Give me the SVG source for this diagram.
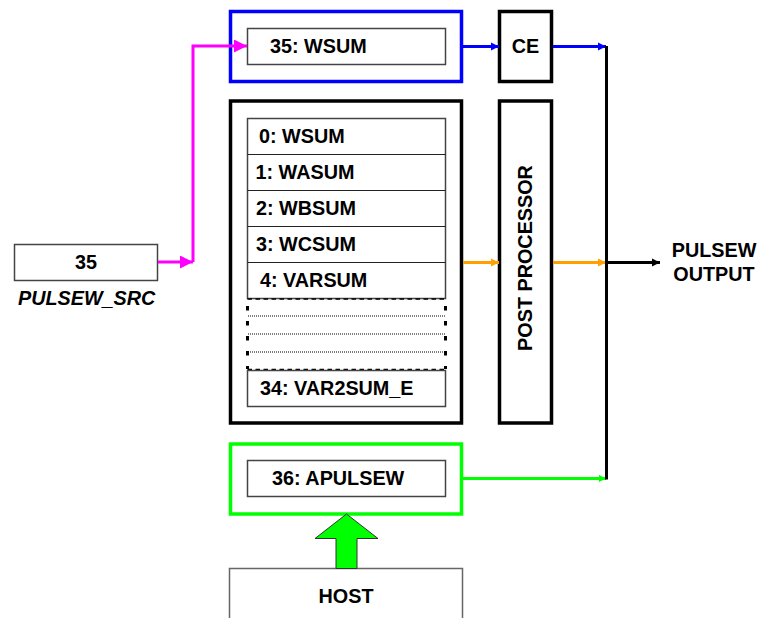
<svg xmlns="http://www.w3.org/2000/svg" width="757" height="618" viewBox="0 0 757 618">
<defs>
<style>
text{font-family:"Liberation Sans",Arial,sans-serif;font-weight:bold;font-size:19.8px;fill:#000}
.inner{fill:#fff;stroke:#444;stroke-width:1.5}
.frame{fill:#fff;stroke-width:3.5}
.row{stroke:#222;stroke-width:1.2}
.conn{fill:none;stroke-width:3}
</style>
<marker id="amagL" viewBox="0 0 10 10" refX="10" refY="5" markerWidth="14" markerHeight="13" markerUnits="userSpaceOnUse" orient="auto"><path d="M0,0L10,5L0,10z" fill="#FF00FF"/></marker>
<marker id="ablue" viewBox="0 0 10 10" refX="10" refY="5" markerWidth="8" markerHeight="13" markerUnits="userSpaceOnUse" orient="auto"><path d="M0,0L10,5L0,10z" fill="#0000FF"/></marker>
<marker id="aor" viewBox="0 0 10 10" refX="10" refY="5" markerWidth="8" markerHeight="13" markerUnits="userSpaceOnUse" orient="auto"><path d="M0,0L10,5L0,10z" fill="#FFA000"/></marker>
<marker id="agr" viewBox="0 0 10 10" refX="10" refY="5" markerWidth="7" markerHeight="12" markerUnits="userSpaceOnUse" orient="auto"><path d="M0,0L10,5L0,10z" fill="#00FF00"/></marker>
<marker id="ablk" viewBox="0 0 10 10" refX="10" refY="5" markerWidth="8" markerHeight="13" markerUnits="userSpaceOnUse" orient="auto"><path d="M0,0L10,5L0,10z" fill="#000"/></marker>
</defs>
<rect width="757" height="618" fill="#fff"/>

<g id="src">
<rect class="inner" x="14.5" y="244.5" width="143" height="36"/>
<text x="86" y="268.5" text-anchor="middle">35</text>
<text x="18" y="305" style="font-style:italic">PULSEW_SRC</text>
</g>

<g id="wsum35">
<rect class="frame" x="230.5" y="11.5" width="231" height="70" stroke="#0000FF"/>
<rect class="inner" x="247.5" y="28.5" width="198" height="36"/>
<text x="270" y="53">35: WSUM</text>
</g>

<g id="ce">
<rect class="frame" x="499.5" y="11.5" width="52" height="70" stroke="#000"/>
<text x="525.5" y="53" text-anchor="middle">CE</text>
</g>

<g id="list">
<rect class="frame" x="230.5" y="101" width="231" height="322" stroke="#000"/>
<rect class="inner" x="247.5" y="118.5" width="198" height="180"/>
<line class="row" x1="247.5" y1="154.5" x2="445.5" y2="154.5"/>
<line class="row" x1="247.5" y1="190.5" x2="445.5" y2="190.5"/>
<line class="row" x1="247.5" y1="226.5" x2="445.5" y2="226.5"/>
<line class="row" x1="247.5" y1="262.5" x2="445.5" y2="262.5"/>
<text x="259" y="142.5">0: WSUM</text>
<text x="255.5" y="179">1: WASUM</text>
<text x="256" y="215">2: WBSUM</text>
<text x="256" y="251">3: WCSUM</text>
<text x="260" y="287">4: VARSUM</text>
<line x1="247.5" y1="299" x2="445.5" y2="299" stroke="#000" stroke-width="1.5" stroke-dasharray="4.5,3.5"/>
<line x1="247.5" y1="369.5" x2="445.5" y2="369.5" stroke="#000" stroke-width="1.5" stroke-dasharray="4.5,3.5"/>
<line x1="247.5" y1="306" x2="247.5" y2="369" stroke="#000" stroke-width="3" stroke-dasharray="4.5,10.5"/>
<line x1="445.5" y1="306" x2="445.5" y2="369" stroke="#000" stroke-width="3" stroke-dasharray="4.5,10.5"/>
<line x1="248" y1="316" x2="445" y2="316" stroke="#000" stroke-width="1" stroke-dasharray="1,1"/>
<line x1="248" y1="334" x2="445" y2="334" stroke="#000" stroke-width="1" stroke-dasharray="1,1"/>
<line x1="248" y1="352" x2="445" y2="352" stroke="#000" stroke-width="1" stroke-dasharray="1,1"/>
<rect class="inner" x="247.5" y="370.5" width="198" height="36"/>
<text x="260" y="394.5">34: VAR2SUM_E</text>
</g>

<g id="post">
<rect class="frame" x="499.5" y="101" width="52" height="322" stroke="#000"/>
<text transform="translate(532,258) rotate(-90)" text-anchor="middle">POST PROCESSOR</text>
</g>

<g id="apulsew">
<rect class="frame" x="230.5" y="444" width="231" height="70" stroke="#00FF00"/>
<rect class="inner" x="247.5" y="460.5" width="198" height="36"/>
<text x="272" y="485">36: APULSEW</text>
</g>

<g id="host">
<rect x="229.5" y="568.5" width="233" height="60" fill="#fff" stroke="#666" stroke-width="1.5"/>
<text x="346" y="603" text-anchor="middle">HOST</text>
<path d="M346.5,514 L378,538.5 L357,538.5 L357,568.5 L336,568.5 L336,538.5 L315,538.5 Z" fill="#00FF00" stroke="#333" stroke-width="1"/>
</g>

<g id="output">
<text x="714" y="257" text-anchor="middle">PULSEW</text>
<text x="714" y="281" text-anchor="middle">OUTPUT</text>
</g>

<g id="connectors">
<polyline class="conn" stroke="#FF00FF" points="158,262 193,262" marker-end="url(#amagL)"/>
<polyline class="conn" stroke="#FF00FF" points="193,262 193,46 247,46" marker-end="url(#amagL)"/>
<line class="conn" stroke="#0000FF" x1="463" y1="46.5" x2="499" y2="46.5" marker-end="url(#ablue)"/>
<line class="conn" stroke="#0000FF" x1="553" y1="46.5" x2="606" y2="46.5" marker-end="url(#ablue)"/>
<line class="conn" stroke="#FFA000" x1="463" y1="262.5" x2="499" y2="262.5" marker-end="url(#aor)"/>
<line class="conn" stroke="#FFA000" x1="553" y1="262.5" x2="606" y2="262.5" marker-end="url(#aor)"/>
<line class="conn" stroke="#00FF00" x1="463" y1="478.5" x2="606" y2="478.5" marker-end="url(#agr)"/>
<line class="conn" stroke="#000" x1="606.5" y1="46" x2="606.5" y2="479.5"/>
<line class="conn" stroke="#000" x1="606.5" y1="262.5" x2="660" y2="262.5" marker-end="url(#ablk)"/>
</g>
</svg>
